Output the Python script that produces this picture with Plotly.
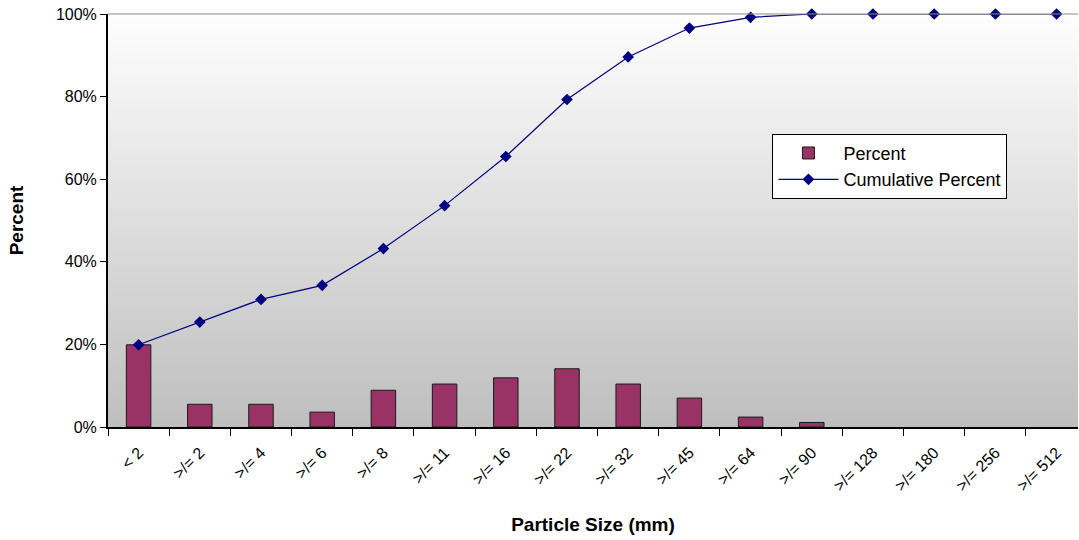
import plotly.graph_objects as go

categories = ["< 2", ">/= 2", ">/= 4", ">/= 6", ">/= 8", ">/= 11", ">/= 16", ">/= 22",
              ">/= 32", ">/= 45", ">/= 64", ">/= 90", ">/= 128", ">/= 180", ">/= 256", ">/= 512"]
percent = [19.9, 5.5, 5.5, 3.6, 8.9, 10.4, 11.9, 14.1, 10.4, 7.0, 2.4, 1.1, 0, 0, 0, 0]
cumulative = [19.9, 25.4, 30.9, 34.3, 43.2, 53.6, 65.5, 79.3, 89.6, 96.6, 99.2, 100, 100, 100, 100, 100]
y_tick_values = [0, 20, 40, 60, 80, 100]
y_tick_labels = ["0%", "20%", "40%", "60%", "80%", "100%"]

FONT = "Liberation Sans, Arial"

fig = go.Figure()
fig.add_trace(go.Bar(
    x=categories, y=percent, name="Percent",
    marker=dict(color="#993366",
                line=dict(color="#1a1a1a", width=[1 if p > 0 else 0 for p in percent])),
))
fig.add_trace(go.Scatter(
    x=categories, y=cumulative, name="Cumulative Percent", mode="lines+markers",
    line=dict(color="#000080", width=1.2),
    marker=dict(symbol="diamond", size=9, color="#000080"),
    cliponaxis=False,
))

# gradient background (white at top -> grey at bottom)
shapes = []
n = 80
for i in range(n):
    frac = (i + 0.5) / n  # 0 bottom, 1 top
    v = int(round(190 + (254 - 190) * frac))
    col = f"rgb({v},{v},{v})"
    shapes.append(dict(type="rect", xref="x domain", yref="y domain",
                       x0=0, x1=1, y0=i / n, y1=(i + 1) / n + 0.002,
                       fillcolor=col, line=dict(width=0), layer="below"))
shapes.append(dict(type="line", xref="x domain", yref="y domain",
                   x0=0, x1=1, y0=1, y1=1, line=dict(color="#8c8c8c", width=1)))

fig.update_layout(
    width=1079, height=540,
    margin=dict(l=108, r=1, t=14, b=113),
    paper_bgcolor="white", plot_bgcolor="white",
    font=dict(family=FONT, size=16, color="#000000"),
    bargap=0.6,
    showlegend=True,
    legend=dict(x=0.685, y=0.71, xanchor="left", yanchor="top",
                bgcolor="white", bordercolor="black", borderwidth=1,
                font=dict(size=18, family=FONT), itemwidth=60, tracegroupgap=0),
    shapes=shapes,
    xaxis=dict(
        type="category", range=[-0.5, 15.35], tickangle=-45, tickson="boundaries",
        ticks="outside", ticklen=7, tickcolor="#000", tickwidth=1,
        ticklabelstandoff=8,
        showline=True, linecolor="black", linewidth=2,
        showgrid=False, tickfont=dict(size=16, family=FONT),
        title=dict(text="<b>Particle Size (mm)</b>", font=dict(size=19, family=FONT), standoff=24),
    ),
    yaxis=dict(
        range=[0, 100], tickmode="array", tickvals=y_tick_values, ticktext=y_tick_labels,
        ticks="outside", ticklen=6, tickcolor="#000", tickwidth=1,
        showline=True, linecolor="black", linewidth=2,
        showgrid=False, zeroline=False, tickfont=dict(size=16, family=FONT),
        title=dict(text="<b>Percent</b>", font=dict(size=19, family=FONT), standoff=27),
    ),
)

fig.write_html("out.html")
